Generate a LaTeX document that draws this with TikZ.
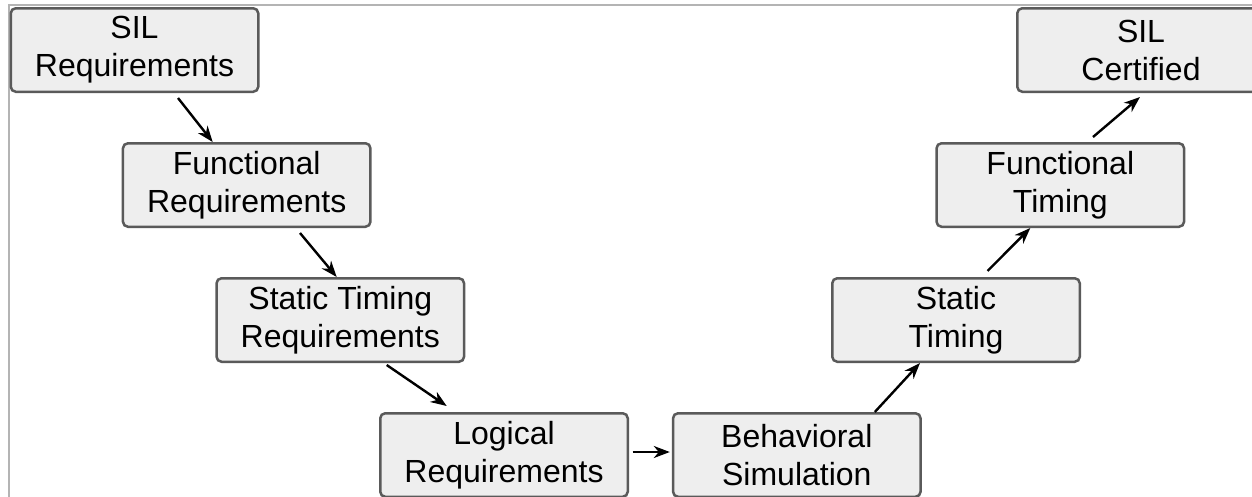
\documentclass[tikz,border=0pt]{standalone}
\usepackage{fontspec}
\setmainfont{Liberation Sans}
\usetikzlibrary{arrows.meta,calc}
\definecolor{boxfill}{HTML}{EEEEEE}
\definecolor{boxline}{HTML}{5A5A5A}
\definecolor{framegray}{HTML}{B4B4B4}
\begin{document}
\begin{tikzpicture}[x=1pt,y=-1pt,
  stage/.style={draw=boxline, fill=boxfill, line width=2.5pt, rounded corners=5pt,
    minimum width=247.5pt, minimum height=83.5pt, inner sep=0pt, align=center,
    font=\fontsize{32}{38}\selectfont, text=black},
  flow/.style={-{Stealth[length=16pt,width=12pt,inset=5pt]}, line width=2.4pt, black}]
\useasboundingbox (0,0) rectangle (1252,496);
\clip (0,0) rectangle (1252,496);
% outer frame
\draw[framegray, line width=1.5pt] (9,5) rectangle (1400,700);
% left branch
\node[stage] (sreq)  at (134.5,50)  {SIL\\Requirements};
\node[stage] (freq)  at (246.7,185) {Functional\\Requirements};
\node[stage] (streq) at (340.3,320) {Static Timing\\Requirements};
\node[stage] (lreq)  at (504,455)   {Logical\\Requirements};
% right branch
\node[stage] (bsim)  at (796.8,455) {Behavioral\\Simulation};
\node[stage] (stim)  at (956,320)   {Static\\Timing};
\node[stage] (ftim)  at (1060.3,185) {Functional\\Timing};
\node[stage] (scert) at (1141,50)   {SIL\\Certified};
% flow arrows
\draw[flow] ([xshift=43.5pt,yshift=-5pt]sreq.south) -- ([xshift=-34pt]freq.north);
\draw[flow] ([xshift=53.3pt,yshift=-5pt]freq.south) -- ([xshift=-3.6pt]streq.north);
\draw[flow] ([xshift=46.4pt,yshift=-2pt]streq.south) -- ([xshift=-57.3pt,yshift=6pt]lreq.north);
\draw[flow] ([xshift=3.7pt,yshift=3pt]lreq.east) -- ([xshift=-2pt,yshift=3pt]bsim.west);
\draw[flow] ([xshift=78pt]bsim.north) -- ([xshift=-36pt]stim.south);
\draw[flow] ([xshift=31.5pt,yshift=6pt]stim.north) -- ([xshift=-30pt]ftim.south);
\draw[flow] ([xshift=32.7pt,yshift=5pt]ftim.north) -- ([xshift=-1pt,yshift=-4pt]scert.south);
\end{tikzpicture}
\end{document}
